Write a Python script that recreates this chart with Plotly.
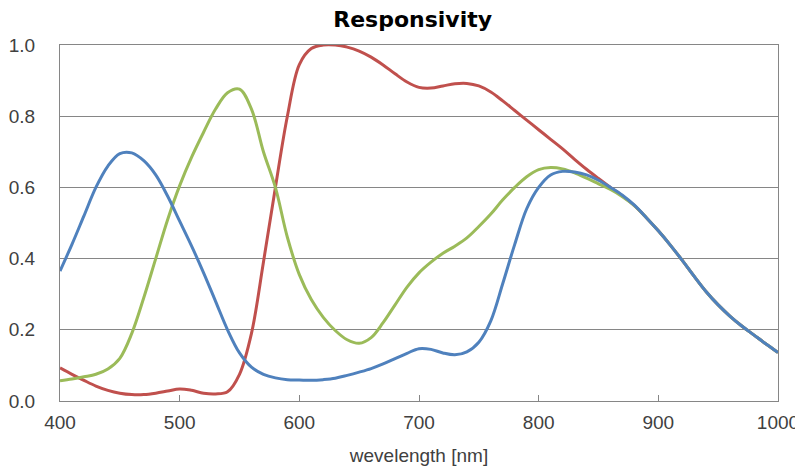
import plotly.graph_objects as go

wavelength = list(range(400, 1001, 10))

blue = [0.365, 0.44, 0.52, 0.60, 0.66, 0.695, 0.697, 0.675, 0.635, 0.575,
        0.505, 0.435, 0.36, 0.28, 0.20, 0.135, 0.095, 0.075, 0.065, 0.06,
        0.059, 0.058, 0.06, 0.064, 0.072, 0.081, 0.091, 0.104, 0.119, 0.134,
        0.147, 0.145, 0.135, 0.13, 0.138, 0.165, 0.225, 0.33, 0.44, 0.54,
        0.60, 0.635, 0.645, 0.643, 0.635, 0.62, 0.60, 0.578, 0.55, 0.515,
        0.478, 0.438, 0.395, 0.35, 0.307, 0.27, 0.238, 0.21, 0.185, 0.16,
        0.136]

green = [0.057, 0.062, 0.068, 0.075, 0.09, 0.12, 0.19, 0.29, 0.40, 0.51,
         0.605, 0.685, 0.755, 0.82, 0.866, 0.876, 0.82, 0.70, 0.60, 0.46,
         0.355, 0.285, 0.235, 0.198, 0.172, 0.162, 0.178, 0.22, 0.27, 0.32,
         0.36, 0.39, 0.415, 0.435, 0.458, 0.49, 0.525, 0.565, 0.60, 0.63,
         0.65, 0.656, 0.652, 0.641, 0.626, 0.61, 0.594, 0.574, 0.549, 0.515,
         0.478, 0.438, 0.395, 0.35, 0.307, 0.27, 0.238, 0.21, 0.185, 0.16,
         0.136]

red = [0.093, 0.075, 0.058, 0.042, 0.03, 0.022, 0.018, 0.018, 0.022, 0.028,
       0.034, 0.03, 0.022, 0.02, 0.026, 0.075, 0.19, 0.39, 0.60, 0.80,
       0.945, 0.99, 1.0, 1.0, 0.994, 0.983, 0.966, 0.944, 0.919, 0.896,
       0.881, 0.879, 0.885, 0.891, 0.892, 0.885, 0.868, 0.843, 0.816, 0.789,
       0.762, 0.735, 0.708, 0.679, 0.651, 0.625, 0.60, 0.576, 0.549, 0.515,
       0.478, 0.438, 0.395, 0.35, 0.307, 0.27, 0.238, 0.21, 0.185, 0.16,
       0.136]

series = [("Red", red, "#C0504D"), ("Green", green, "#9BBB59"), ("Blue", blue, "#4F81BD")]

fig = go.Figure()
for name, vals, col in series:
    fig.add_trace(go.Scatter(x=wavelength, y=vals, mode="lines", name=name,
                             line=dict(color=col, width=3, shape="spline", smoothing=1.0)))

grid = "#868686"
# the page body has an 8px margin, so the figure is sized to fit inside it
fig.update_layout(
    width=795, height=462,
    margin=dict(l=52, r=25, t=37, b=69, autoexpand=False),
    paper_bgcolor="white", plot_bgcolor="white",
    showlegend=False,
    title=dict(text="<b>Responsivity</b>", x=0.509, xanchor="center",
               y=0.975, yanchor="middle", yref="container",
               font=dict(family="DejaVu Sans", size=22, color="#000000")),
    font=dict(family="Liberation Sans, Arial, sans-serif", size=19, color="#404040"),
)
fig.update_xaxes(range=[400, 1000], tickvals=list(range(400, 1001, 100)),
                 showgrid=False, zeroline=False, automargin=False,
                 showline=True, linecolor=grid, linewidth=1, mirror=True,
                 ticks="inside", ticklen=6, tickcolor=grid,
                 ticklabelstandoff=4,
                 title=dict(text="wevelength [nm]", standoff=16,
                            font=dict(size=19, color="#404040")))
fig.update_yaxes(range=[0, 1], dtick=0.2, tickformat=".1f", automargin=False,
                 showgrid=True, gridcolor=grid, gridwidth=1, zeroline=False,
                 showline=True, linecolor=grid, linewidth=1, mirror=True,
                 ticks="", ticklabelstandoff=20)

fig.write_html("out.html")
